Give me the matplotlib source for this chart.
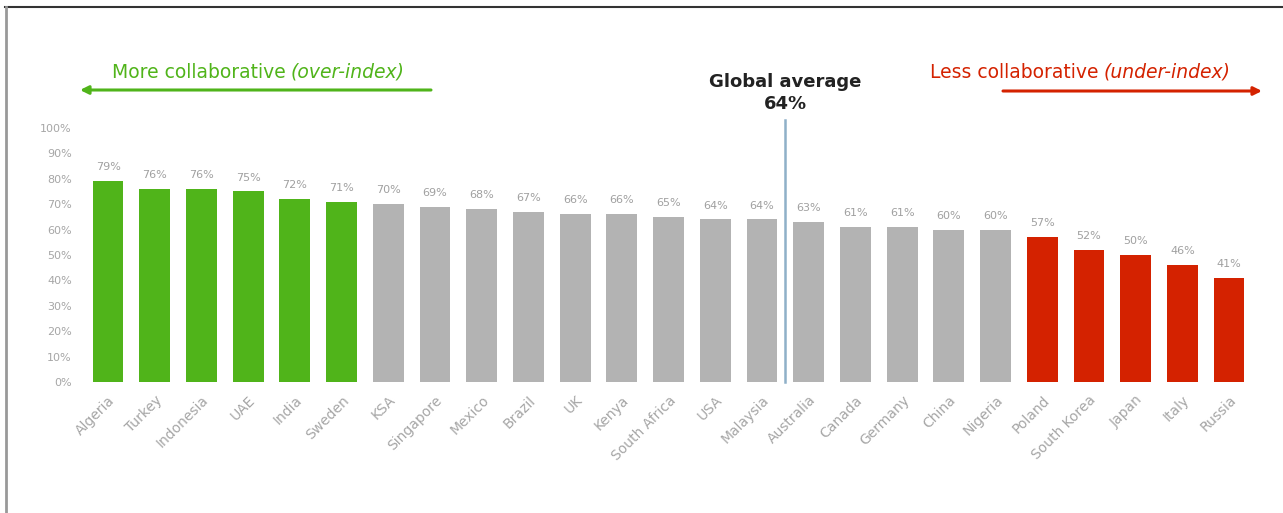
import matplotlib
matplotlib.use("Agg")
import matplotlib.pyplot as plt
from matplotlib.lines import Line2D

countries = ["Algeria", "Turkey", "Indonesia", "UAE", "India", "Sweden", "KSA",
             "Singapore", "Mexico", "Brazil", "UK", "Kenya", "South Africa", "USA",
             "Malaysia", "Australia", "Canada", "Germany", "China", "Nigeria",
             "Poland", "South Korea", "Japan", "Italy", "Russia"]
values = [79, 76, 76, 75, 72, 71, 70, 69, 68, 67, 66, 66, 65, 64, 64,
          63, 61, 61, 60, 60, 57, 52, 50, 46, 41]
groups = ["over"] * 6 + ["mid"] * 14 + ["under"] * 5
yticks = [0, 10, 20, 30, 40, 50, 60, 70, 80, 90, 100]
global_avg = 64

GREEN = "#50b41a"
GREY = "#b3b3b3"
RED = "#d42200"
group_colors = {"over": GREEN, "mid": GREY, "under": RED}

fig = plt.figure(figsize=(12.83, 5.13), dpi=100)
ax = fig.add_axes([0.0624, 0.2554, 0.9174, 0.4951])

x = list(range(len(countries)))
ax.bar(x, values, width=0.66, color=[group_colors[g] for g in groups])

for xi, v in zip(x, values):
    ax.text(xi, v + 3.5, f"{v}%", ha="center", va="bottom", fontsize=8, color="#a0a0a0")

ax.set_xlim(-0.6, len(countries) - 0.4)
ax.set_ylim(0, 100)
ax.set_yticks(yticks)
ax.set_yticklabels([f"{t}%" for t in yticks], fontsize=8, color="#a6a6a6")
ax.set_xticks(x)
ax.set_xticklabels(countries, rotation=45, ha="right", rotation_mode="anchor",
                   fontsize=10, color="#a6a6a6")
ax.tick_params(length=0, pad=6)
ax.tick_params(axis="x", pad=8)
for s in ax.spines.values():
    s.set_visible(False)

# global average divider between Malaysia and Australia
ax.plot([14.5, 14.5], [0, 103], color="#8fb0c8", lw=1.8, clip_on=False)
ax.text(14.5, 106, "Global average\n64%", ha="center", va="bottom", fontsize=13,
        fontweight="bold", color="#222222", linespacing=1.25,
        transform=ax.transData, clip_on=False)

# direction banners
renderer = fig.canvas.get_renderer()


def banner(x0, y0, plain, italic, color):
    t1 = fig.text(x0, y0, plain, fontsize=13.5, color=color, va="center")
    bb = t1.get_window_extent(renderer)
    x1 = bb.x1 / fig.bbox.width + 0.004
    fig.text(x1, y0, italic, fontsize=13.5, color=color, style="italic", va="center")


banner(112 / 1283, 1 - 72 / 513, "More collaborative", "(over-index)", GREEN)
banner(930 / 1283, 1 - 72 / 513, "Less collaborative", "(under-index)", RED)

ax.annotate("", xy=(80 / 1283, 1 - 90 / 513), xytext=(431 / 1283, 1 - 90 / 513),
            xycoords="figure fraction", textcoords="figure fraction",
            arrowprops=dict(arrowstyle="-|>", color=GREEN, lw=2.2,
                            mutation_scale=12, shrinkA=0, shrinkB=0))
ax.annotate("", xy=(1262 / 1283, 1 - 91 / 513), xytext=(1003 / 1283, 1 - 91 / 513),
            xycoords="figure fraction", textcoords="figure fraction",
            arrowprops=dict(arrowstyle="-|>", color=RED, lw=2.2,
                            mutation_scale=12, shrinkA=0, shrinkB=0))

# outer frame lines
fig.add_artist(Line2D([5 / 1283, 1], [1 - 7 / 513, 1 - 7 / 513],
                      transform=fig.transFigure, color="#333333", lw=1.5))
fig.add_artist(Line2D([5.5 / 1283, 5.5 / 1283], [0, 1 - 7 / 513],
                      transform=fig.transFigure, color="#999999", lw=2))

fig.savefig("out.png", dpi=100)
